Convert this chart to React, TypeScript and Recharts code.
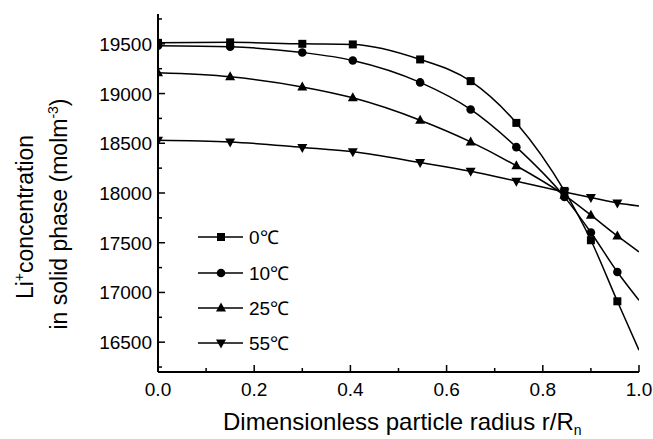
import { LineChart, Line, XAxis, YAxis, Customized } from "recharts";

const FONT = '"Liberation Sans", Arial, sans-serif';

// r/Rn sample positions
const RADIUS = [0, 0.15, 0.3, 0.405, 0.545, 0.65, 0.745, 0.845, 0.9, 0.955, 1.0];

// Li+ concentration (mol m^-3) per temperature
const C_0 = [19510, 19515, 19500, 19494, 19343, 19125, 18705, 18021, 17525, 16911, 16419];
const C_10 = [19480, 19470, 19413, 19333, 19112, 18840, 18461, 17961, 17603, 17206, 16922];
const C_25 = [19208, 19168, 19067, 18957, 18732, 18514, 18273, 17978, 17777, 17568, 17408];
const C_55 = [18531, 18514, 18458, 18414, 18307, 18219, 18119, 18011, 17955, 17900, 17870];

const SERIES = [
  { key: "c0", name: "0℃", shape: "square" },
  { key: "c10", name: "10℃", shape: "circle" },
  { key: "c25", name: "25℃", shape: "up" },
  { key: "c55", name: "55℃", shape: "down" },
];

const X_TICKS = [0, 0.1, 0.2, 0.3, 0.4, 0.5, 0.6, 0.7, 0.8, 0.9, 1.0];
const Y_TICKS = [
  16250, 16500, 16750, 17000, 17250, 17500, 17750, 18000, 18250, 18500, 18750, 19000,
  19250, 19500, 19750,
];

const data = RADIUS.map((r, i) => ({ r, c0: C_0[i], c10: C_10[i], c25: C_25[i], c55: C_55[i] }));

function Marker({ shape, cx, cy }: { shape: string; cx: number; cy: number }) {
  if (shape === "square")
    return <rect x={cx - 4} y={cy - 4} width={8} height={8} fill="#000" />;
  if (shape === "circle") return <circle cx={cx} cy={cy} r={4.3} fill="#000" />;
  if (shape === "up")
    return (
      <polygon
        points={`${cx},${cy - 5.5} ${cx - 5},${cy + 3.5} ${cx + 5},${cy + 3.5}`}
        fill="#000"
      />
    );
  return (
    <polygon
      points={`${cx},${cy + 5.5} ${cx - 5},${cy - 3.5} ${cx + 5},${cy - 3.5}`}
      fill="#000"
    />
  );
}

const makeDot = (shape: string) => (props: any) => {
  const { cx, cy, payload, index } = props;
  if (payload.r >= 1) return <g key={index} />;
  return (
    <g key={index}>
      <Marker shape={shape} cx={cx} cy={cy} />
    </g>
  );
};

function XTick(p: any) {
  const v = p.payload.value;
  const major = Math.abs(v * 5 - Math.round(v * 5)) < 1e-6;
  return (
    <g>
      <line x1={p.x} x2={p.x} y1={p.y} y2={p.y - (major ? 7 : 4)} stroke="#000" strokeWidth={1.5} />
      {major && (
        <text x={p.x} y={p.y + 24} textAnchor="middle" fontSize={19} fontFamily={FONT} fill="#000">
          {v.toFixed(1)}
        </text>
      )}
    </g>
  );
}

function YTick(p: any) {
  const v = p.payload.value;
  const major = v % 500 === 0;
  const axisX = p.x + 6;
  return (
    <g>
      <line x1={axisX} x2={axisX + (major ? 7 : 4)} y1={p.y} y2={p.y} stroke="#000" strokeWidth={1.5} />
      {major && (
        <text x={axisX - 6} y={p.y + 7} textAnchor="end" fontSize={19} fontFamily={FONT} fill="#000">
          {v}
        </text>
      )}
    </g>
  );
}

function Decorations() {
  const rows = [237, 273, 308, 343];
  return (
    <g fontFamily={FONT} fill="#000">
      {/* y label, two rotated lines */}
      <text x={33} y={217} transform="rotate(-90, 33, 217)" textAnchor="middle" fontSize={23}>
        Li<tspan dy={-9} fontSize={14}>+</tspan>
        <tspan dy={9}>concentration</tspan>
      </text>
      <text x={67} y={214} transform="rotate(-90, 67, 214)" textAnchor="middle" fontSize={23}>
        in solid phase (molm<tspan dy={-9} fontSize={14}>-3</tspan>
        <tspan dy={9}>)</tspan>
      </text>
      {/* x label */}
      <text x={223} y={430} fontSize={24}>
        Dimensionless particle radius r/R<tspan dy={5} fontSize={14}>n</tspan>
      </text>
      {/* legend */}
      {SERIES.map((s, i) => (
        <g key={s.key}>
          <line x1={198} x2={243} y1={rows[i]} y2={rows[i]} stroke="#000" strokeWidth={1.5} />
          <Marker shape={s.shape} cx={221} cy={rows[i]} />
          <text x={249} y={rows[i] + 7} fontSize={19}>
            {s.name}
          </text>
        </g>
      ))}
    </g>
  );
}

export default function App() {
  return (
    <div style={{ position: "absolute", left: 0, top: 0, background: "#fff" }}>
      <LineChart
        width={653}
        height={439}
        data={data}
        margin={{ top: 14, right: 14, left: 0, bottom: 0 }}
      >
        <XAxis
          dataKey="r"
          type="number"
          domain={[0, 1]}
          ticks={X_TICKS}
          interval={0}
          allowDataOverflow
          height={67}
          tickSize={0}
          tickMargin={0}
          tickLine={false}
          tick={<XTick />}
          axisLine={{ stroke: "#000", strokeWidth: 2 }}
        />
        <XAxis
          xAxisId="top"
          orientation="top"
          type="number"
          domain={[0, 1]}
          height={0}
          tick={false}
          tickLine={false}
          axisLine={{ stroke: "#000", strokeWidth: 2 }}
        />
        <YAxis
          type="number"
          domain={[16200, 19800]}
          ticks={Y_TICKS}
          interval={0}
          allowDataOverflow
          width={158}
          tickSize={0}
          tickMargin={6}
          tickLine={false}
          tick={<YTick />}
          axisLine={{ stroke: "#000", strokeWidth: 2 }}
        />
        <YAxis
          yAxisId="right"
          orientation="right"
          type="number"
          domain={[16200, 19800]}
          width={0}
          tick={false}
          tickLine={false}
          axisLine={{ stroke: "#000", strokeWidth: 2 }}
        />
        {SERIES.map((s) => (
          <Line
            key={s.key}
            dataKey={s.key}
            name={s.name}
            type="monotone"
            stroke="#000"
            strokeWidth={1.5}
            dot={makeDot(s.shape)}
            activeDot={false}
            isAnimationActive={false}
          />
        ))}
        <Customized component={Decorations} />
      </LineChart>
    </div>
  );
}
